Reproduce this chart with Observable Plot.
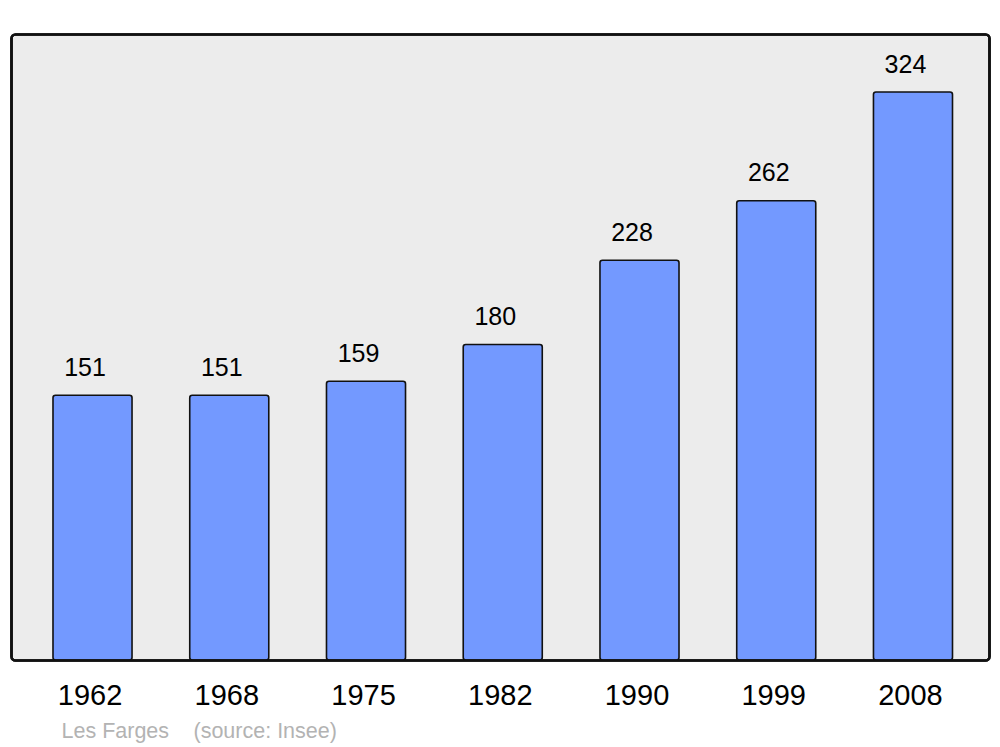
<!DOCTYPE html>
<html>
<head>
<meta charset="utf-8">
<script src="https://cdn.jsdelivr.net/npm/d3@7"></script>
<script src="https://cdn.jsdelivr.net/npm/@observablehq/plot@0.6"></script>
<style>
  html, body { margin: 0; padding: 0; background: #ffffff; }
</style>
</head>
<body>
<div id="chart"></div>
<script>
const years = ["1962", "1968", "1975", "1982", "1990", "1999", "2008"];
const population = [151, 151, 159, 180, 228, 262, 324];
const captionPlace = "Les Farges";
const captionSource = "(source: Insee)";

const data = years.map((y, i) => ({year: y, pop: population[i]}));

const chart = Plot.plot({
  width: 1000,
  height: 747,
  marginTop: 34,
  marginBottom: 87,
  marginLeft: 11,
  marginRight: 11,
  style: {fontFamily: "'Liberation Sans', Arial, sans-serif", background: "#ffffff", color: "#000"},
  x: {domain: years, paddingInner: 0.422, paddingOuter: 0.287, align: 0.535, round: false, label: null},
  y: {domain: [0, 357.1], axis: null},
  marks: [
    Plot.frame({fill: "#ececec", stroke: "#111", strokeWidth: 2.6, rx: 4}),
    Plot.barY(data, {x: "year", y: "pop", fill: "#7399ff", stroke: "#111", strokeWidth: 1.6, rx: 2.5}),
    Plot.frame({fill: "none", stroke: "#111", strokeWidth: 2.6, rx: 4}),
    Plot.text(data, {x: "year", y: "pop", text: d => String(d.pop), lineAnchor: "bottom", dy: -20, dx: -8, fontSize: 25, fill: "#000"}),
    Plot.axisX({tickSize: 0, tickPadding: 24, fontSize: 29, dx: -3, label: null}),
    Plot.text([captionPlace], {frameAnchor: "bottom-left", text: d => d, textAnchor: "start", lineAnchor: "bottom", dx: 50, dy: 77, fontSize: 21.5, fill: "#b3b3b3"}),
    Plot.text([captionSource], {frameAnchor: "bottom-left", text: d => d, textAnchor: "start", lineAnchor: "bottom", dx: 182, dy: 77, fontSize: 21.5, fill: "#b3b3b3"})
  ]
});
document.getElementById("chart").appendChild(chart);
</script>
</body>
</html>
